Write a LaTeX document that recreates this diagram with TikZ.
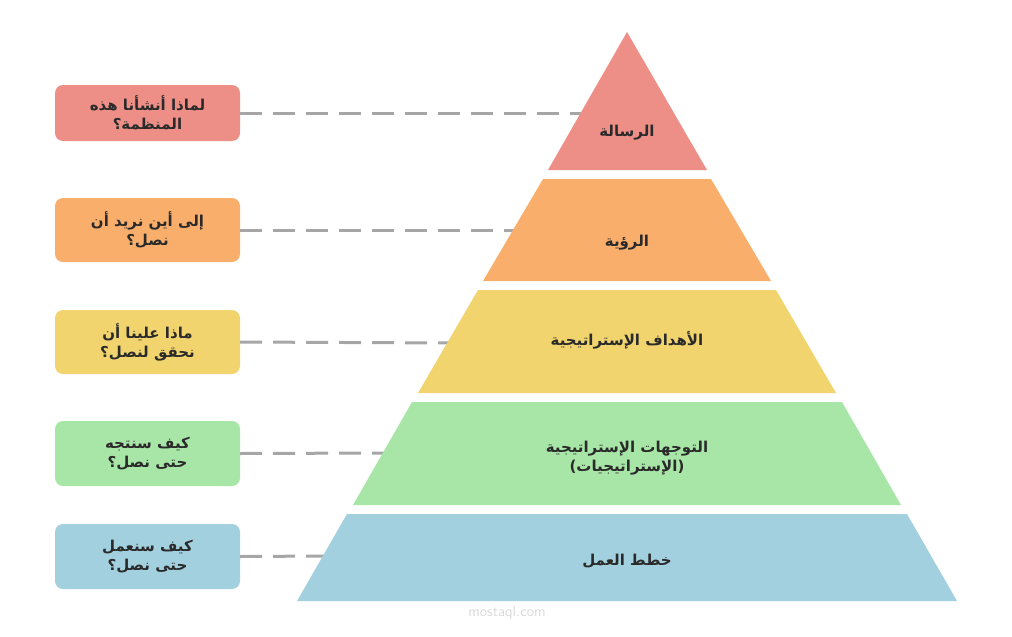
\documentclass[tikz,border=0pt]{standalone}
\usepackage{fontspec}
\newfontfamily\arabicfont[Script=Arabic]{DejaVu Sans}
\TeXXeTstate=1
\definecolor{cred}{HTML}{EE8F87}
\definecolor{corange}{HTML}{F9AE6B}
\definecolor{cyellow}{HTML}{F2D46E}
\definecolor{cgreen}{HTML}{A8E6A8}
\definecolor{cblue}{HTML}{A3D0DE}
\definecolor{ctext}{HTML}{2A2A2A}
\definecolor{cdash}{HTML}{A6A6A6}
\begin{document}
\begin{tikzpicture}[x=1pt,y=-1pt,
  qbox/.style={rectangle,rounded corners=8pt,minimum width=185pt,inner sep=0pt,font=\arabicfont\bfseries\fontsize{15}{19}\selectfont,text=ctext,align=center},
  ltext/.style={font=\arabicfont\bfseries\fontsize{15}{19}\selectfont,text=ctext,align=center},
  conn/.style={draw=cdash,line width=3pt,dash pattern=on 22pt off 11pt}]
\useasboundingbox (0,0) rectangle (1012,637);
% connector end points on pyramid edge
\coordinate (e1) at (581,113);
\coordinate (e2) at (515,230);
\coordinate (e3) at (450,343);
\coordinate (e4) at (387,453);
\coordinate (e5) at (328,556);
% boxes
\node[qbox,fill=cred,minimum height=56pt] (q1) at (147.5,113) {\beginR لماذا أنشأنا هذه\endR\\\beginR المنظمة؟\endR};
\node[qbox,fill=corange,minimum height=64pt] (q2) at (147.5,230) {\beginR إلى أين نريد أن\endR\\\beginR نصل؟\endR};
\node[qbox,fill=cyellow,minimum height=64pt] (q3) at (147.5,342) {\beginR ماذا علينا أن\endR\\\beginR نحقق لنصل؟\endR};
\node[qbox,fill=cgreen,minimum height=65pt] (q4) at (147.5,453.5) {\beginR كيف سنتجه\endR\\\beginR حتى نصل؟\endR};
\node[qbox,fill=cblue,minimum height=65pt] (q5) at (147.5,556.5) {\beginR كيف سنعمل\endR\\\beginR حتى نصل؟\endR};
\draw[conn] (q1.east) -- (e1);
\draw[conn] (q2.east) -- (e2);
\draw[conn] (q3.east) -- (e3);
\draw[conn] (q4.east) -- (e4);
\draw[conn] (q5.east) -- (e5);
% pyramid
\fill[cred] (627,32) -- (707,170) -- (548,170) -- cycle;
\fill[corange] (543,179) -- (711,179) -- (771,281) -- (483,281) -- cycle;
\fill[cyellow] (478,290) -- (776,290) -- (836,393) -- (418,393) -- cycle;
\fill[cgreen] (412,402) -- (842,402) -- (901,505) -- (353,505) -- cycle;
\fill[cblue] (347,514) -- (907,514) -- (957,601) -- (297,601) -- cycle;
\node[ltext] (l1) at (627,133) {\beginR الرسالة\endR};
\node[ltext] (l2) at (627,243) {\beginR الرؤية\endR};
\node[ltext] (l3) at (627,340) {\beginR الأهداف الإستراتيجية\endR};
\node[ltext] (l4) at (627,458) {\beginR التوجهات الإستراتيجية\endR\\\beginR (الإستراتيجيات)\endR};
\node[ltext] (l5) at (627,561) {\beginR خطط العمل\endR};
\node[font=\sffamily\fontsize{15}{15}\selectfont,text=black!15] (wm) at (507,613) {mostaql.com};
\end{tikzpicture}
\end{document}
